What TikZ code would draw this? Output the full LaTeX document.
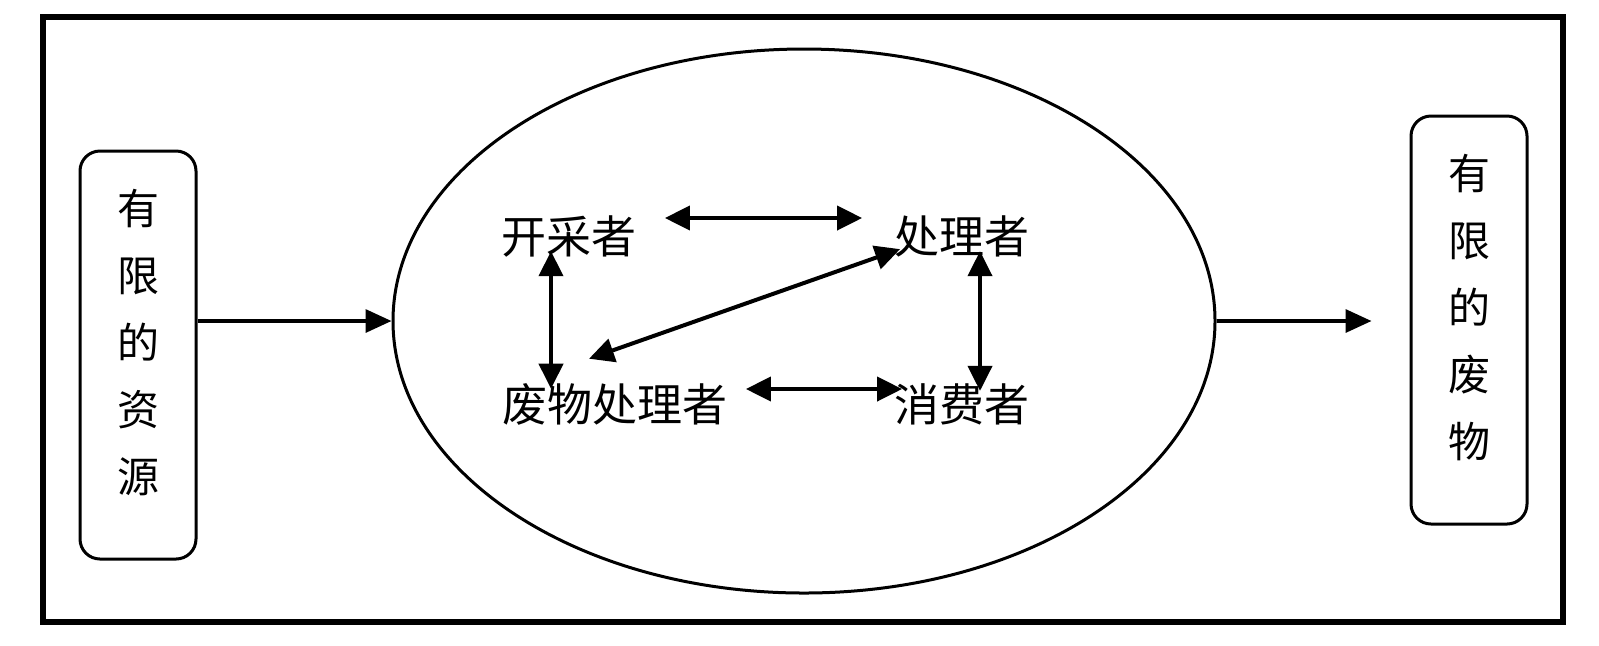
\documentclass[tikz,border=0pt]{standalone}
\usepackage{fontspec}
\newfontfamily\cjk{Noto Sans CJK SC}
\usetikzlibrary{arrows.meta,shapes.geometric}

\begin{document}
\begin{tikzpicture}[x=0.5pt,y=-0.5pt,
    actor/.style={inner sep=0pt,font=\cjk\fontsize{22.5}{27}\selectfont},
    vtext/.style={inner sep=0pt,align=center,font=\cjk\fontsize{21}{33.5}\selectfont},
    endbox/.style={draw,line width=1.5pt,rounded corners=10pt,minimum width=58pt,minimum height=204pt,inner sep=0pt},
    flow/.style={line width=1.7pt,-{Triangle[length=13pt,width=11.5pt]}},
    link/.style={line width=2pt,{Triangle[length=12.5pt,width=12pt]}-{Triangle[length=12.5pt,width=12pt]}}]
    \useasboundingbox (0,0) rectangle (1599,645);
    \draw[line width=2.8pt] (43,17) rectangle (1563,622);
    %
    \node[endbox] (src) at (138,355) {};
    \node[vtext] (srctxt) at (138,343) {有\\限\\的\\资\\源};
    \node[endbox] (sink) at (1469,320) {};
    \node[vtext] (sinktxt) at (1469,308) {有\\限\\的\\废\\物};
    %
    \node[draw,ellipse,line width=1.5pt,minimum width=411pt,minimum height=272pt,inner sep=0pt] (eco) at (804,321) {};
    %
    \node[actor] (miner) at (569,236) {开采者};
    \node[actor] (proc) at (962,236) {处理者};
    \node[actor] (waste) at (615,404) {废物处理者};
    \node[actor] (cons) at (962,404) {消费者};
    %
    \draw[flow] (src.east |- eco.west) -- (eco.west);
    \draw[flow] (eco.east) -- ([xshift=-19pt]eco.east -| sink.west);
    %
    \draw[link] ([xshift=14pt,yshift=9pt]miner.east) -- ([xshift=-16pt,yshift=9pt]proc.west);
    \draw[link] ([xshift=9pt,yshift=7.5pt]waste.east) -- ([xshift=4pt,yshift=7.5pt]cons.west);
    \draw[link] ([xshift=-9pt,yshift=3pt]miner.south) -- ([xshift=-32pt,yshift=-3pt]waste.north);
    \draw[link] ([xshift=9pt,yshift=3pt]proc.south) -- ([xshift=9pt,yshift=-4pt]cons.north);
    \draw[link] ([xshift=3pt,yshift=4pt]proc.south west) -- ([xshift=-13pt,yshift=12pt]waste.north);
    %
\end{tikzpicture}
\end{document}
